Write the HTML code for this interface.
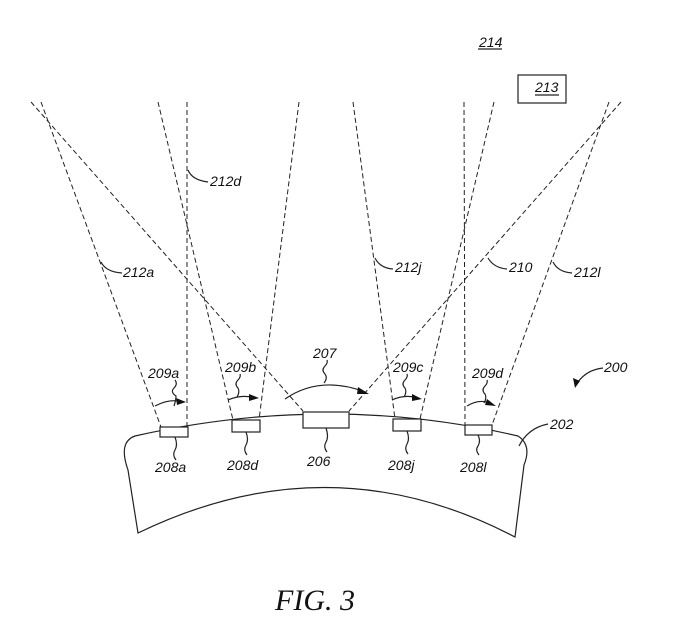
<!DOCTYPE html>
<html><head><meta charset="utf-8"><style>
html,body{margin:0;padding:0;background:#fff;}
svg{display:block;}
text{font-family:"Liberation Sans",sans-serif;font-style:italic;font-size:14px;fill:#111;}
</style></head><body>
<svg width="673" height="644" viewBox="0 0 673 644" xmlns="http://www.w3.org/2000/svg">
<g stroke="#222" stroke-width="1" fill="none" stroke-dasharray="5,3">
<line x1="31" y1="102" x2="303" y2="411"/>
<line x1="621" y1="102" x2="349" y2="411"/>
<line x1="41" y1="102" x2="161" y2="427"/>
<line x1="187" y1="102" x2="187" y2="427"/>
<line x1="158" y1="102" x2="233" y2="420"/>
<line x1="299" y1="102" x2="259" y2="420"/>
<line x1="353" y1="102" x2="395" y2="419"/>
<line x1="494" y1="102" x2="420" y2="419"/>
<line x1="464" y1="102" x2="465" y2="425"/>
<line x1="609" y1="102" x2="492" y2="425"/>
</g>
<g stroke="#222" stroke-width="1.2" fill="none">
<path d="M135,436 Q330,392 518,436 Q532,445 524,465 L515,537 Q330,440 138,533 L128,470 Q118,442 135,436 Z"/>
<rect x="160" y="427" width="28" height="10" fill="#fff"/>
<rect x="232" y="420" width="28" height="12" fill="#fff"/>
<rect x="303" y="412" width="46" height="16" fill="#fff"/>
<rect x="393" y="419" width="28" height="12" fill="#fff"/>
<rect x="465" y="425" width="27" height="10" fill="#fff"/>
<path d="M155,406 Q170,398 182,402"/>
<path d="M228,400 Q242,394 255,398"/>
<path d="M285,399 Q320,375 365,392"/>
<path d="M392,400 Q405,394 418,398"/>
<path d="M467,406 Q480,398 492,404"/>
<path d="M174,406 Q176,400 176,396 Q170,392 174,388 Q178,384 175,380"/>
<path d="M237,397 Q240,392 238,388 Q234,384 238,380 Q241,377 240,374"/>
<path d="M324,383 Q328,378 325,374 Q321,370 325,366 Q328,363 327,360"/>
<path d="M404,397 Q407,392 405,388 Q401,384 405,380 Q408,377 407,374"/>
<path d="M484,403 Q487,398 485,394 Q481,390 485,386 Q488,383 487,380"/>
<path d="M175,437 Q178,445 175,450 Q172,455 176,460"/>
<path d="M246,432 Q249,440 246,445 Q243,450 247,455"/>
<path d="M326,428 Q329,437 326,442 Q323,447 327,452"/>
<path d="M407,431 Q410,439 407,444 Q404,449 408,454"/>
<path d="M478,435 Q481,441 478,446 Q475,450 479,455"/>
<path d="M519,446 Q528,428 548,424"/>
<path d="M603,368 Q585,370 576,385"/>
<path d="M188,170 Q192,180 208,182"/>
<path d="M101,262 Q106,272 122,273"/>
<path d="M375,258 Q380,268 393,269"/>
<path d="M488,258 Q494,268 507,269"/>
<path d="M553,262 Q558,272 572,273"/>
<rect x="518" y="75" width="48" height="28"/>
<line x1="478" y1="49" x2="502" y2="49"/>
<line x1="535" y1="95" x2="559" y2="95"/>
</g>
<g fill="#111">
<path d="M186,402 L176,398 L177,405 Z"/>
<path d="M259,398 L249,394 L249,401 Z"/>
<path d="M369,394 L358,387 L357,394 Z"/>
<path d="M422,399 L412,394 L412,401 Z"/>
<path d="M496,406 L487,399 L485,405 Z"/>
<path d="M575,388 L573,378 L580,381 Z"/>
</g>
<text x="148" y="378">209a</text>
<text x="225" y="372">209b</text>
<text x="313" y="358">207</text>
<text x="393" y="372">209c</text>
<text x="472" y="378">209d</text>
<text x="155" y="472">208a</text>
<text x="227" y="470">208d</text>
<text x="307" y="466">206</text>
<text x="388" y="470">208j</text>
<text x="460" y="472">208l</text>
<text x="550" y="429">202</text>
<text x="604" y="372">200</text>
<text x="210" y="186">212d</text>
<text x="123" y="277">212a</text>
<text x="395" y="272">212j</text>
<text x="509" y="272">210</text>
<text x="574" y="277">212l</text>
<text x="479" y="47">214</text>
<text x="535" y="92">213</text>
<text x="275" y="610" style="font-family:'Liberation Serif',serif;font-size:30px;">FIG.  3</text>
</svg>
</body></html>
